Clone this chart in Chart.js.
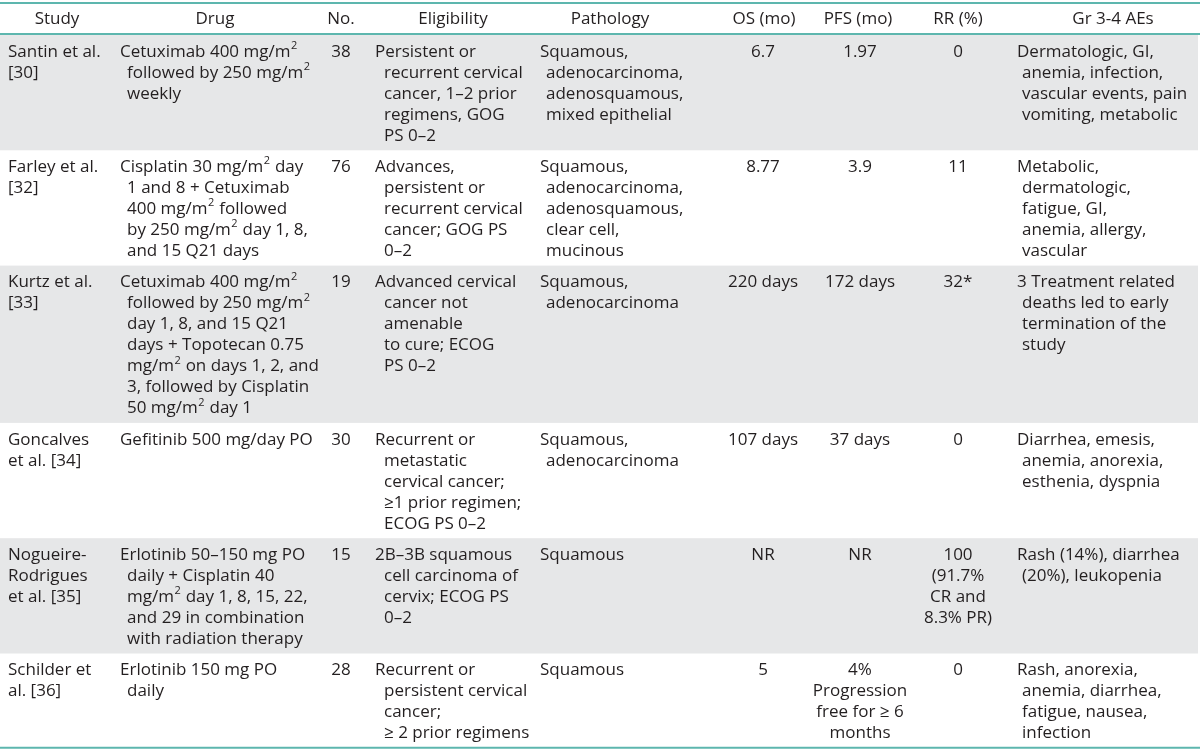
<!DOCTYPE html>
<html>
<head>
<meta charset="utf-8">
<script src="https://cdn.jsdelivr.net/npm/chart.js@4.4.1/dist/chart.umd.min.js"></script>
<style>
  html, body { margin: 0; padding: 0; background: #fff; }
  #wrap { width: 1200px; height: 751px; }
</style>
</head>
<body>
<div id="wrap"><canvas id="trialTable" width="1200" height="751"></canvas></div>
<script>
// table content, one array per column
const headers = ['Study', 'Drug', 'No.', 'Eligibility', 'Pathology', 'OS (mo)', 'PFS (mo)', 'RR (%)', 'Gr 3-4 AEs'];
const studies = [
  'Santin et al.\n[30]',
  'Farley et al.\n[32]',
  'Kurtz et al.\n[33]',
  'Goncalves\net al. [34]',
  'Nogueire-\nRodrigues\net al. [35]',
  'Schilder et\nal. [36]'
];
const drugs = [
  'Cetuximab 400 mg/m²\nfollowed by 250 mg/m²\nweekly',
  'Cisplatin 30 mg/m² day\n1 and 8 + Cetuximab\n400 mg/m² followed\nby 250 mg/m² day 1, 8,\nand 15 Q21 days',
  'Cetuximab 400 mg/m²\nfollowed by 250 mg/m²\nday 1, 8, and 15 Q21\ndays + Topotecan 0.75\nmg/m² on days 1, 2, and\n3, followed by Cisplatin\n50 mg/m² day 1',
  'Gefitinib 500 mg/day PO',
  'Erlotinib 50–150 mg PO\ndaily + Cisplatin 40\nmg/m² day 1, 8, 15, 22,\nand 29 in combination\nwith radiation therapy',
  'Erlotinib 150 mg PO\ndaily'
];
const patients = ['38', '76', '19', '30', '15', '28'];
const eligibility = [
  'Persistent or\nrecurrent cervical\ncancer, 1–2 prior\nregimens, GOG\nPS 0–2',
  'Advances,\npersistent or\nrecurrent cervical\ncancer; GOG PS\n0–2',
  'Advanced cervical\ncancer not\namenable\nto cure; ECOG\nPS 0–2',
  'Recurrent or\nmetastatic\ncervical cancer;\n≥1 prior regimen;\nECOG PS 0–2',
  '2B–3B squamous\ncell carcinoma of\ncervix; ECOG PS\n0–2',
  'Recurrent or\npersistent cervical\ncancer;\n≥ 2 prior regimens'
];
const pathology = [
  'Squamous,\nadenocarcinoma,\nadenosquamous,\nmixed epithelial',
  'Squamous,\nadenocarcinoma,\nadenosquamous,\nclear cell,\nmucinous',
  'Squamous,\nadenocarcinoma',
  'Squamous,\nadenocarcinoma',
  'Squamous',
  'Squamous'
];
const overallSurvival = ['6.7', '8.77', '220 days', '107 days', 'NR', '5'];
const progressionFree = ['1.97', '3.9', '172 days', '37 days', 'NR', '4%\nProgression\nfree for ≥ 6\nmonths'];
const responseRate = ['0', '11', '32*', '0', '100\n(91.7%\nCR and\n8.3% PR)', '0'];
const adverseEvents = [
  'Dermatologic, GI,\nanemia, infection,\nvascular events, pain\nvomiting, metabolic',
  'Metabolic,\ndermatologic,\nfatigue, GI,\nanemia, allergy,\nvascular',
  '3 Treatment related\ndeaths led to early\ntermination of the\nstudy',
  'Diarrhea, emesis,\nanemia, anorexia,\nesthenia, dyspnia',
  'Rash (14%), diarrhea\n(20%), leukopenia',
  'Rash, anorexia,\nanemia, diarrhea,\nfatigue, nausea,\ninfection'
];

// layout
const W = 1200, H = 751;
const LINE = 21, PAD = 10.3, HEAD_TOP = 3, HEAD_BOTTOM = 34, BODY_TOP = 35;
const FONT = '17px "Open Sans", "Noto Sans", sans-serif';
const SUP_FONT = '11px "Open Sans", "Noto Sans", sans-serif';
const TEXT = '#231f20', SHADE = '#e6e7e8', RULE = '#5db6ae';

const columns = [
  { cells: studies,         x: 8,    head: 57,   align: 'left',   indent: 0 },
  { cells: drugs,           x: 120,  head: 215,  align: 'left',   indent: 7 },
  { cells: patients,        x: 341,  head: 341,  align: 'center', indent: 0 },
  { cells: eligibility,     x: 375,  head: 453,  align: 'left',   indent: 9 },
  { cells: pathology,       x: 540,  head: 610,  align: 'left',   indent: 6 },
  { cells: overallSurvival, x: 763,  head: 764,  align: 'center', indent: 0 },
  { cells: progressionFree, x: 860,  head: 858,  align: 'center', indent: 0 },
  { cells: responseRate,    x: 958,  head: 958,  align: 'center', indent: 0 },
  { cells: adverseEvents,   x: 1017, head: 1113, align: 'left',   indent: 5 }
];

// row extents from the number of text lines in each row
const rowLines = studies.map((_, r) => Math.max(...columns.map(c => c.cells[r].split('\n').length)));
const rowTops = [];
let acc = BODY_TOP;
rowLines.forEach(n => { rowTops.push(acc); acc += n * LINE + PAD; });
const tableBottom = acc;

// left-aligned line with small raised "2" for m²
function drawLine(ctx, text, px, py, align) {
  if (align !== 'left' || text.indexOf('²') < 0) {
    ctx.textAlign = align;
    ctx.fillText(text, px, py);
    return;
  }
  ctx.textAlign = 'left';
  let cx = px;
  text.split('²').forEach((part, i) => {
    if (i > 0) {
      ctx.font = SUP_FONT;
      ctx.fillText('2', cx + 0.5, py - 6);
      cx += ctx.measureText('2').width + 1;
      ctx.font = FONT;
    }
    ctx.fillText(part, cx, py);
    cx += ctx.measureText(part).width;
  });
}

const tablePlugin = {
  id: 'tableCells',
  beforeDatasetsDraw(chart) {
    const { ctx, scales: { x, y } } = chart;
    ctx.save();
    // shaded rows
    rowTops.forEach((top, r) => {
      if (r % 2 !== 0) return;
      const y0 = y.getPixelForValue(top), y1 = y.getPixelForValue(top + rowLines[r] * LINE + PAD);
      ctx.fillStyle = SHADE;
      ctx.fillRect(x.getPixelForValue(0), y0, x.getPixelForValue(1198) - x.getPixelForValue(0), y1 - y0);
    });
    // rules
    ctx.strokeStyle = RULE;
    ctx.lineWidth = 2;
    [HEAD_TOP, HEAD_BOTTOM, tableBottom].forEach(v => {
      ctx.beginPath();
      ctx.moveTo(x.getPixelForValue(0), y.getPixelForValue(v));
      ctx.lineTo(x.getPixelForValue(W), y.getPixelForValue(v));
      ctx.stroke();
    });
    // text
    ctx.font = FONT;
    ctx.fillStyle = TEXT;
    ctx.textBaseline = 'middle';
    columns.forEach((col, c) => {
      ctx.textAlign = 'center';
      ctx.fillText(headers[c], x.getPixelForValue(col.head), y.getPixelForValue((HEAD_TOP + HEAD_BOTTOM) / 2 + 1));
      col.cells.forEach((cell, r) => {
        cell.split('\n').forEach((line, i) => {
          const px = col.x + (i > 0 ? col.indent : 0);
          drawLine(ctx, line, x.getPixelForValue(px), y.getPixelForValue(rowTops[r] + 17 + i * LINE), col.align);
        });
      });
    });
    ctx.restore();
  }
};

new Chart(document.getElementById('trialTable'), {
  type: 'scatter',
  data: { datasets: [{ data: [] }] },
  options: {
    responsive: false,
    animation: false,
    devicePixelRatio: 1,
    layout: { padding: 0 },
    plugins: { legend: { display: false }, tooltip: { enabled: false } },
    scales: {
      x: { type: 'linear', min: 0, max: W, display: false },
      y: { type: 'linear', min: 0, max: H, reverse: true, display: false }
    }
  },
  plugins: [tablePlugin]
});
</script>
</body>
</html>
